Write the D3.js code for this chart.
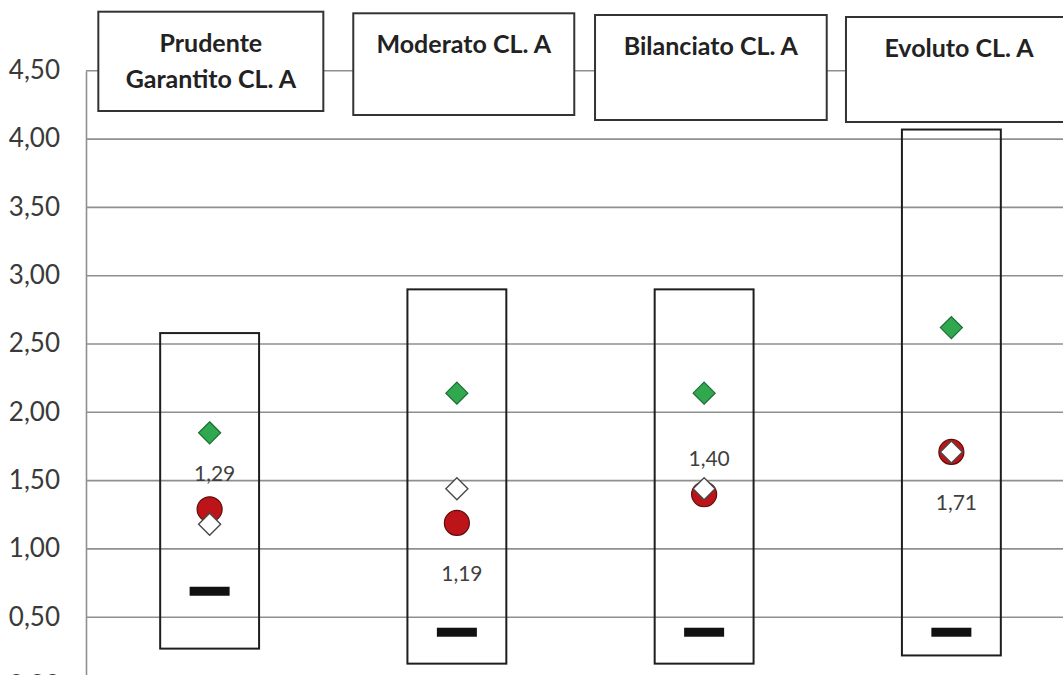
<!DOCTYPE html>
<html>
<head>
<meta charset="utf-8">
<script src="https://cdn.jsdelivr.net/npm/d3@7/dist/d3.min.js"></script>
<style>
  html, body { margin: 0; padding: 0; background: #fff; overflow: hidden; }
  svg { display: block; }
</style>
</head>
<body>
<svg id="chart" width="1063" height="675"></svg>
<script>
// ---- data ----
const categories = ["Prudente\nGarantito CL. A", "Moderato CL. A", "Bilanciato CL. A", "Evoluto CL. A"];
const rangeMax   = [2.58, 2.90, 2.90, 4.07];
const rangeMin   = [0.27, 0.16, 0.16, 0.22];
const dashValues = [0.69, 0.39, 0.39, 0.39];
const greenValues = [1.85, 2.14, 2.14, 2.62];
const redValues   = [1.29, 1.19, 1.40, 1.71];
const whiteValues = [1.18, 1.44, 1.44, 1.71];
const redLabels   = ["1,29", "1,19", "1,40", "1,71"];
const labelSide   = ["above", "below", "above", "below"];
const yTicks = [0, 0.5, 1, 1.5, 2, 2.5, 3, 3.5, 4, 4.5];
const yTickLabels = ["0,00", "0,50", "1,00", "1,50", "2,00", "2,50", "3,00", "3,50", "4,00", "4,50"];

// ---- layout ----
const svg = d3.select("#chart");
const plotLeft = 86, plotRight = 1075;
const y = d3.scaleLinear().domain([0, 4.5]).range([685.5, 70.8]);
const x = d3.scalePoint().domain(d3.range(categories.length)).range([plotLeft, plotRight]).padding(0.5);
const step = x.step();
const boxW = step * 0.4;
const FONT = "Lato, 'Open Sans', 'DejaVu Sans', sans-serif";

// gridlines
svg.append("g").selectAll("line").data(yTicks.filter(t => t > 0)).join("line")
  .attr("x1", plotLeft).attr("x2", plotRight)
  .attr("y1", d => y(d)).attr("y2", d => y(d))
  .attr("stroke", "#8f8f8f").attr("stroke-width", 1.6);

// y axis
const yAxis = d3.axisLeft(y).tickValues(yTicks).tickSize(0).tickPadding(26)
  .tickFormat((d, i) => yTickLabels[i]);
const ag = svg.append("g").attr("transform", `translate(${plotLeft},0)`).call(yAxis);
ag.select(".domain").attr("stroke", "#8f8f8f").attr("stroke-width", 1.6);
ag.selectAll("text").attr("font-family", FONT).attr("font-size", 26).attr("fill", "#3a3a3a")
  .attr("dy", "0.3em");

// category header boxes (text boxes staggered slightly)
const headerGeom = [
  {dx: -111.3, w: 225, top: 11.7, h: 99.3},
  {dx: -103.6, w: 221, top: 13.3, h: 101.7},
  {dx: -109.1, w: 231.7, top: 15, h: 105},
  {dx: -105.4, w: 226, top: 17, h: 105}
];
const hg = svg.append("g").selectAll("g").data(categories).join("g")
  .attr("transform", (d, i) => `translate(${x(i) + headerGeom[i].dx},${headerGeom[i].top})`);
hg.append("rect")
  .attr("width", (d, i) => headerGeom[i].w)
  .attr("height", (d, i) => headerGeom[i].h)
  .attr("fill", "#fff").attr("stroke", "#333").attr("stroke-width", 2);
hg.each(function(d, i) {
  const lines = d.split("\n");
  const t = d3.select(this).append("text")
    .attr("font-family", FONT).attr("font-weight", "bold").attr("font-size", 25)
    .attr("fill", "#222").attr("text-anchor", "middle");
  lines.forEach((ln, k) => {
    t.append("tspan").attr("x", headerGeom[i].w / 2).attr("y", 40 + k * 36).text(ln);
  });
});

// range boxes
svg.append("g").selectAll("rect").data(categories).join("rect")
  .attr("x", (d, i) => x(i) - boxW / 2)
  .attr("width", boxW)
  .attr("y", (d, i) => y(rangeMax[i]))
  .attr("height", (d, i) => y(rangeMin[i]) - y(rangeMax[i]))
  .attr("fill", "none").attr("stroke", "#1e1e1e").attr("stroke-width", 2);

// black dashes
svg.append("g").selectAll("rect").data(dashValues).join("rect")
  .attr("x", (d, i) => x(i) - 20).attr("width", 40)
  .attr("y", d => y(d) - 4.5).attr("height", 9)
  .attr("fill", "#111");

const diamond = d3.symbol().type(d3.symbolDiamond2).size(310);
// green diamonds
svg.append("g").selectAll("path").data(greenValues).join("path")
  .attr("d", diamond)
  .attr("transform", (d, i) => `translate(${x(i)},${y(d)})`)
  .attr("fill", "#2fa84f").attr("stroke", "#1d6b33").attr("stroke-width", 1.2);

// red circles
svg.append("g").selectAll("circle").data(redValues).join("circle")
  .attr("cx", (d, i) => x(i)).attr("cy", d => y(d)).attr("r", 12.5)
  .attr("fill", "#bd1419").attr("stroke", "#5e0c0c").attr("stroke-width", 1.2);

// white diamonds
svg.append("g").selectAll("path").data(whiteValues).join("path")
  .attr("d", diamond)
  .attr("transform", (d, i) => `translate(${x(i)},${y(d)})`)
  .attr("fill", "#fff").attr("stroke", "#4a4a4a").attr("stroke-width", 1.4);

// labels for red circles
svg.append("g").selectAll("text").data(redValues).join("text")
  .attr("x", (d, i) => x(i) + 5)
  .attr("y", (d, i) => y(d) + (labelSide[i] === "above" ? -36 : 51))
  .attr("dy", "0.35em")
  .attr("text-anchor", "middle")
  .attr("font-family", FONT).attr("font-size", 21).attr("fill", "#404040")
  .text((d, i) => redLabels[i]);
</script>
</body>
</html>
